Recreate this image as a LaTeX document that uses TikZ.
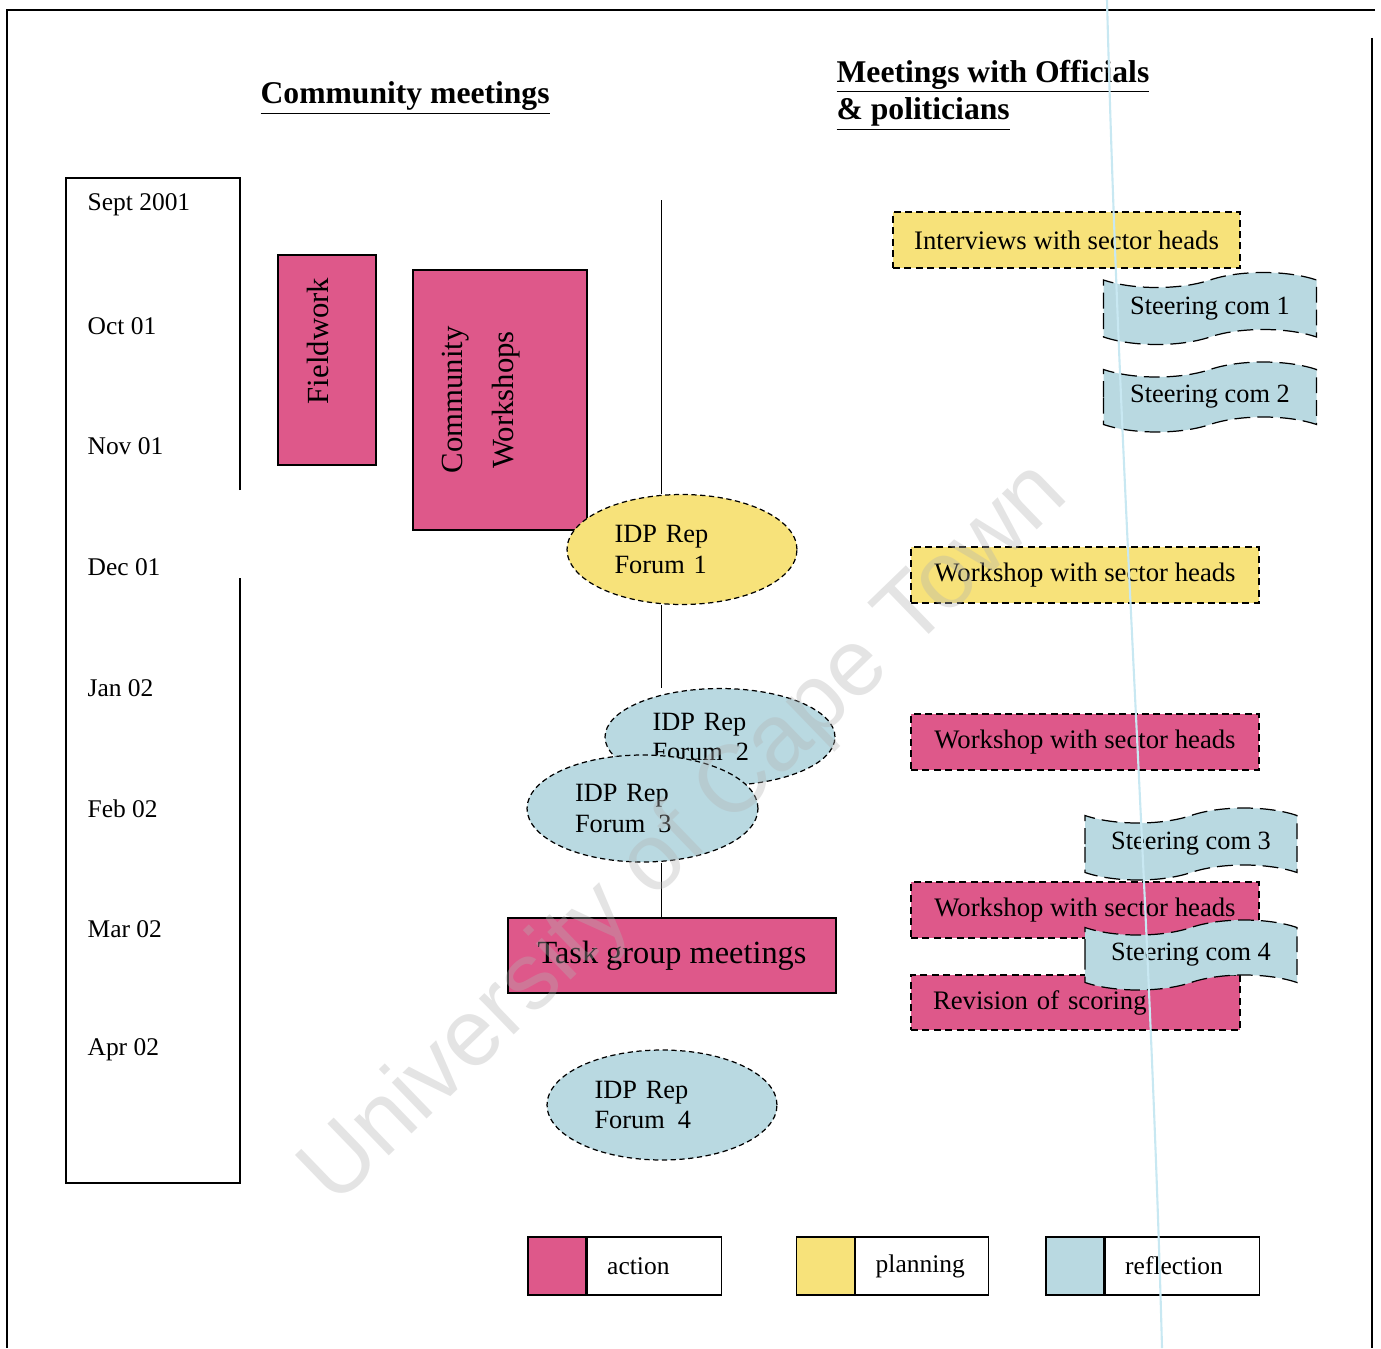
\documentclass[tikz,border=0pt]{standalone}
\usepackage{fontspec}
\setmainfont{Liberation Serif}
\newfontfamily\wmfont{Liberation Sans}
\usepackage{xcolor}
\usepackage{tikz}
\usetikzlibrary{positioning, shapes.geometric, shapes.symbols, backgrounds}

\definecolor{actpink}{RGB}{222,88,138}
\definecolor{planyellow}{RGB}{247,226,122}
\definecolor{reflblue}{RGB}{185,217,225}
\definecolor{scanblue}{RGB}{200,232,242}

\begin{document}
\begin{tikzpicture}[x=0.02cm, y=-0.02cm, line width=0.7pt,
    month/.style={anchor=west, inner sep=0pt, font=\fontsize{14.5}{17}\selectfont},
    heading/.style={anchor=base west, align=left, inner sep=0pt, font=\fontsize{18}{21.5}\selectfont\bfseries},
    actbox/.style={draw, fill=actpink},
    sectorbox/.style={draw, dash pattern=on 4pt off 2.5pt, minimum width=6.96cm, minimum height=1.12cm, font=\fontsize{15.2}{17}\selectfont},
    forum/.style={ellipse, draw, densely dashed, minimum width=4.6cm, minimum height=2.2cm, text width=2.7cm, align=left, font=\fontsize{15}{17.6}\selectfont},
    steerbox/.style={tape, draw, dash pattern=on 9pt off 4pt, fill=reflblue, minimum width=4.26cm, minimum height=1.44cm, tape bend height=0.3cm, font=\fontsize{15}{17}\selectfont},
    keybox/.style={draw, minimum height=1.16cm, inner xsep=0.4cm, align=left, font=\fontsize{14.5}{17}\selectfont},
    swatch/.style={draw, minimum size=1.16cm}]
    \useasboundingbox (0,0) rectangle (1381,1348);

    % 扫描页边框
    \draw (1375,10) -- (7,10) -- (7,1348);
    \draw (1372,38) -- (1372,1348);

    % 标题
    \node[heading] (cmtitle) at (260,104) {\underline{Community meetings}};
    \node[heading] (offtitle) at (836,120) {\underline{Meetings with Officials}\\\underline{\& politicians}};

    % 时间轴
    \draw (240,490) -- (240,178) -- (66,178) -- (66,1183) -- (240,1183) -- (240,578);
    \foreach \m [count=\i from 0] in {Sept 2001, Oct 01, Nov 01, Dec 01, Jan 02, Feb 02, Mar 02, Apr 02}
        \node[month] (m\i) at (87,205+120.7*\i) {\m};

    % 社区会议
    \node[actbox, minimum width=1.96cm, minimum height=4.2cm] (fieldwork) at (327,360) {};
    \node[rotate=90, font=\fontsize{17.5}{21}\selectfont] (fieldworklbl) at (318,341) {Fieldwork};
    \node[actbox, minimum width=3.48cm, minimum height=5.2cm] (commws) at (500,400) {};
    \node[rotate=90, align=center, font=\fontsize{17.5}{29.5}\selectfont] (commwslbl) at (481,400) {Community\\Workshops};

    \node[forum, fill=planyellow] (forum1) at (682,549.5) {IDP Rep\\Forum 1};
    \node[forum, fill=reflblue, minimum height=1.94cm] (forum2) at (720,737) {IDP Rep\\Forum\enspace2};
    \node[forum, fill=reflblue, minimum width=4.62cm, minimum height=2.14cm] (forum3) at (642.5,808.5) {IDP Rep\\Forum\enspace3};
    \node[actbox, minimum width=6.56cm, minimum height=1.5cm, font=\fontsize{18.4}{21}\selectfont] (taskgroup) at (672,955.5) {Task group meetings};
    \node[forum, fill=reflblue] (forum4) at (662,1105) {IDP Rep\\Forum\enspace4};

    % 中间竖线
    \coordinate (spinetop) at (661,200);
    \begin{scope}[on background layer]
        \draw (spinetop) -- (spinetop |- forum1.north);
        \draw (spinetop |- forum1.south) -- (spinetop |- forum2.north);
        \draw (spinetop |- forum3.south) -- (spinetop |- taskgroup.north);
    \end{scope}

    % 官员与政治家会议
    \node[sectorbox, fill=planyellow, minimum width=6.94cm] (interviews) at (1066.5,240) {Interviews with sector heads};
    \node[steerbox] (steer1) at (1210,308.5) {Steering com 1};
    \node[steerbox, minimum height=1.4cm] (steer2) at (1210,397) {Steering com 2};
    \node[sectorbox, fill=planyellow] (workshop1) at (1085,575) {Workshop with sector heads};
    \node[sectorbox, fill=actpink] (workshop2) at (1085,742) {Workshop with sector heads};
    \node[sectorbox, fill=actpink] (workshop3) at (1085,910) {Workshop with sector heads};
    \node[sectorbox, fill=actpink, minimum width=6.58cm, minimum height=1.1cm, text width=5.7cm, align=left] (revision) at (1075.5,1002.5) {Revision of scoring};
    \node[steerbox, minimum width=4.24cm] (steer3) at (1191,844) {Steering com 3};
    \node[steerbox, minimum width=4.24cm, minimum height=1.4cm] (steer4) at (1191,955) {Steering com 4};

    % 图例
    \node[swatch, fill=actpink] (actsw) at (557,1266) {};
    \node[keybox, text width=1.88cm, right=0pt of actsw] (actkey) {action};
    \node[swatch, fill=planyellow] (plansw) at (825.5,1266) {};
    \node[keybox, text width=1.86cm, right=0pt of plansw] (plankey) {planning};
    \node[swatch, fill=reflblue] (reflsw) at (1075,1266) {};
    \node[keybox, text width=2.28cm, right=0pt of reflsw] (reflkey) {reflection};

    % 水印与扫描线
    \node[rotate=44, text=white!70!black, text opacity=0.35, font=\wmfont\fontsize{54}{60}\selectfont] (watermark) at (686,835) {University of Cape Town};
    \draw[scanblue, line width=1.2pt] (1107,0) .. controls (1120,500) and (1150,900) .. (1162,1348);
\end{tikzpicture}
\end{document}
